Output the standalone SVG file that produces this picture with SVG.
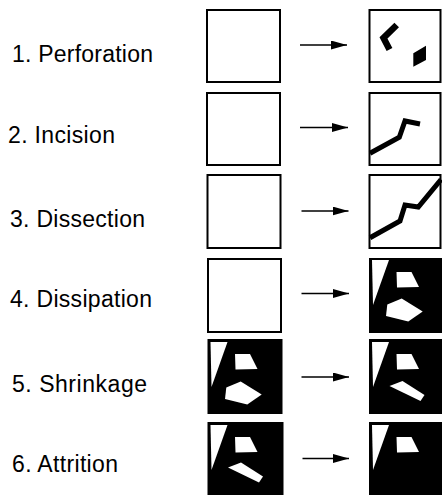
<svg xmlns="http://www.w3.org/2000/svg" width="442" height="495" viewBox="0 0 442 495">
<style>
.lbl{font-family:"Liberation Sans",Arial,Helvetica,sans-serif;font-size:23px;fill:#000}
.box{fill:#fff;stroke:#000;stroke-width:2}
.dark{fill:#000;stroke:#000;stroke-width:2}
.cut{fill:none;stroke:#000;stroke-width:5;stroke-linejoin:miter}
.hole{fill:#fff}
.conn{stroke:#000;stroke-width:1.5;fill:none}
</style>
<defs>
<marker id="ah" markerUnits="userSpaceOnUse" markerWidth="16" markerHeight="9" refX="16" refY="4.5" orient="auto">
<path d="M0,0 L16,4.5 L0,9 Z" fill="#000"/>
</marker>
<g id="tri"><polygon class="hole" points="2,1,19,1,3,46"/></g>
<g id="trap"><polygon class="hole" points="26.5,13,41.5,13,49,28,27,28.5"/></g>
<g id="pent"><polygon class="hole" points="17.3,45.5,31.7,39.5,52.7,52.5,38.3,62.5,16,57"/></g>
<g id="sliver"><polygon class="hole" points="19.5,46.5,32.5,41.5,54.5,55.5,50.5,61.5"/></g>
</defs>

<g id="labels">
<text class="lbl" x="12" y="62" textLength="141" lengthAdjust="spacing">1. Perforation</text>
<text class="lbl" x="8" y="143" textLength="107" lengthAdjust="spacing">2. Incision</text>
<text class="lbl" x="10" y="227" textLength="135" lengthAdjust="spacing">3. Dissection</text>
<text class="lbl" x="10" y="307" textLength="142" lengthAdjust="spacing">4. Dissipation</text>
<text class="lbl" x="12" y="392" textLength="135" lengthAdjust="spacing">5. Shrinkage</text>
<text class="lbl" x="12" y="472" textLength="106" lengthAdjust="spacing">6. Attrition</text>
</g>

<g id="row1-before"><rect class="box" x="207" y="10" width="73" height="72"/></g>
<g id="row1-after">
<rect class="box" x="369.5" y="10" width="71" height="72"/>
<polyline class="cut" style="stroke-width:6.5" points="396.7,25 383.5,38 389.5,49.5"/>
<polygon points="413.3,53.3 426,45.7 426,60 413.3,66.7" fill="#000"/>
</g>

<g id="row2-before"><rect class="box" x="207" y="93" width="73" height="72"/></g>
<g id="row2-after">
<rect class="box" x="369.5" y="93" width="71" height="72"/>
<polyline class="cut" points="370,153.3 399.3,137.3 405,121 420,124"/>
</g>

<g id="row3-before"><rect class="box" x="207.5" y="175" width="73" height="73"/></g>
<g id="row3-after">
<rect class="box" x="369.5" y="175" width="71" height="73"/>
<polyline class="cut" points="370,237.7 400,221 405,205 418.3,207 441,179.5"/>
</g>

<g id="row4-before"><rect class="box" x="208" y="259" width="73" height="73"/></g>
<g id="row4-after">
<rect class="dark" x="370" y="259" width="71" height="73"/>
<use href="#tri" x="370" y="259"/>
<use href="#trap" x="370" y="259"/>
<use href="#pent" x="370" y="259"/>
</g>

<g id="row5-before">
<rect class="dark" x="208.5" y="340" width="73" height="73"/>
<use href="#tri" x="208.5" y="341"/>
<use href="#trap" x="208.5" y="341"/>
<use href="#pent" x="209" y="342"/>
</g>
<g id="row5-after">
<rect class="dark" x="370" y="340" width="71" height="73"/>
<use href="#tri" x="370" y="341"/>
<use href="#trap" x="370" y="341"/>
<use href="#sliver" x="370" y="339.5"/>
</g>

<g id="row6-before">
<rect class="dark" x="208.5" y="423" width="74" height="74"/>
<use href="#tri" x="208.5" y="424"/>
<use href="#trap" x="208.5" y="424"/>
<use href="#sliver" x="208.5" y="421"/>
</g>
<g id="row6-after">
<rect class="dark" x="370" y="423" width="71" height="74"/>
<use href="#tri" x="370" y="424"/>
<use href="#trap" x="370" y="424"/>
</g>

<g id="connectors">
<line class="conn" x1="300" y1="45" x2="347" y2="45" marker-end="url(#ah)"/>
<line class="conn" x1="300" y1="127.5" x2="348" y2="127.5" marker-end="url(#ah)"/>
<line class="conn" x1="301.5" y1="211" x2="348.5" y2="211" marker-end="url(#ah)"/>
<line class="conn" x1="301.5" y1="293.5" x2="349" y2="293.5" marker-end="url(#ah)"/>
<line class="conn" x1="301.5" y1="377" x2="349" y2="377" marker-end="url(#ah)"/>
<line class="conn" x1="302.5" y1="458.5" x2="349" y2="458.5" marker-end="url(#ah)"/>
</g>
</svg>
